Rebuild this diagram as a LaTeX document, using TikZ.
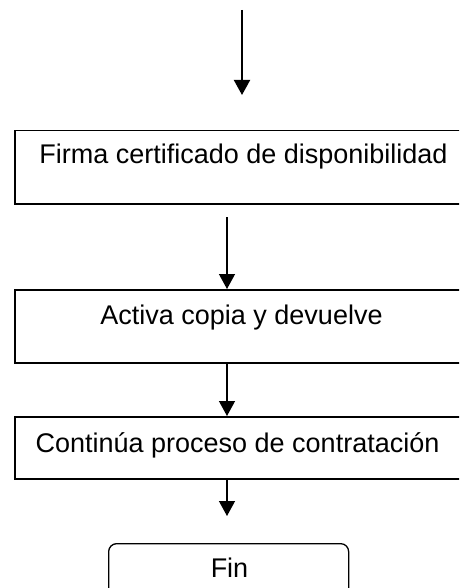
\documentclass[tikz,border=0pt]{standalone}
\usepackage{fontspec}
\setmainfont{Liberation Sans}
\usetikzlibrary{arrows.meta}
\begin{document}
\begin{tikzpicture}[x=1pt,y=-1pt,
  box/.style={draw=black,line width=1.5pt,rectangle,inner sep=0pt,anchor=north west},
  endbox/.style={draw=black,line width=1.3pt,rectangle,rounded corners=8pt,inner sep=0pt,anchor=north west},
  lbl/.style={inner sep=0pt,anchor=base,font=\fontsize{27}{32}\selectfont},
  flow/.style={line width=1.3pt,-{Triangle[width=16pt,length=15pt]}},
  flowthick/.style={line width=2pt,-{Triangle[width=16pt,length=15pt]}}]
\useasboundingbox (0,0) rectangle (459,588);
\clip (0,0) rectangle (459,588);
% boxes
\node[box,minimum width=470pt,minimum height=73pt] (b1) at (14,130) {};
\node[box,minimum width=470pt,minimum height=73pt] (b2) at (14,289) {};
\node[box,minimum width=470pt,minimum height=62pt] (b3) at (14,416) {};
\node[endbox,minimum width=240pt,minimum height=70pt] (fin) at (108,543) {};
% labels
\node[lbl] (t1) at (243.5,164) {Firma certificado de disponibilidad};
\node[lbl] (t2) at (241.5,324) {Activa copia y devuelve};
\node[lbl] (t3) at (237.5,452) {Continúa proceso de contratación};
\node[lbl] (t4) at (229.5,577) {Fin};
% connector ends
\coordinate (s0) at (242,10);
\coordinate (e0) at (242,95);
\coordinate (s1) at (227,217);
\coordinate (e4) at (227,516);
% connectors
\draw[flowthick] (s0) -- (e0);
\draw[flow] (s1) -- (s1 |- b2.north);
\draw[flow] (b2.south -| s1) -- (b3.north -| s1);
\draw[flow] (b3.south -| s1) -- (e4);
\end{tikzpicture}
\end{document}
